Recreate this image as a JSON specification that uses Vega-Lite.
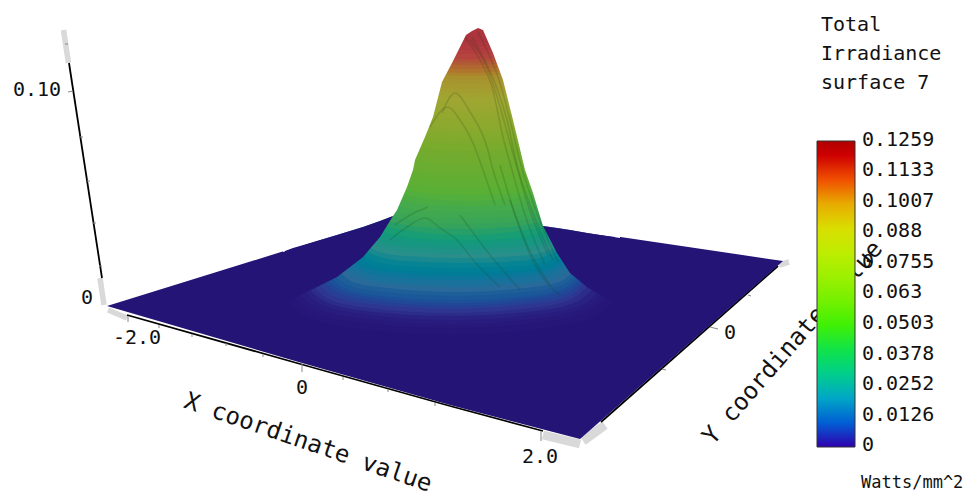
{"$schema":"https://vega.github.io/schema/vega-lite/v6.json","width":971,"height":496,"autosize":{"type":"none"},"padding":0,"background":"white","view":{"stroke":null},
"config":{"text":{"font":"DejaVu Sans Mono","color":"#111"},"view":{"stroke":null}},
"encoding":{"x":{"field":"sx","type":"quantitative","scale":{"domain":[0,971],"nice":false,"zero":false},"axis":null},"y":{"field":"sy","type":"quantitative","scale":{"domain":[0,496],"reverse":true,"nice":false,"zero":false},"axis":null}},
"resolve":{"scale":{"color":"independent"}},
"layer":[
{"data":{"values":[{"sx":63.5,"sy":30,"ex":68.5,"ey":63},{"sx":100,"sy":278,"ex":104,"ey":305},{"sx":108,"sy":310,"ex":127,"ey":318},{"sx":779,"sy":265,"ex":789,"ey":262}]},"mark":{"type":"rule","color":"#d9d9d9","strokeWidth":5.5},"encoding":{"x2":{"field":"ex"},"y2":{"field":"ey"}}},
{"data":{"values":[{"sx":543,"sy":435,"ex":580,"ey":444},{"sx":583,"sy":441,"ex":605,"ey":425}]},"mark":{"type":"rule","color":"#d9d9d9","strokeWidth":9},"encoding":{"x2":{"field":"ex"},"y2":{"field":"ey"}}},
{"data":{"values":[{"sx":69,"sy":63,"ex":102,"ey":278},{"sx":127,"sy":315,"ex":302,"ey":364.5},{"sx":302,"sy":364.5,"ex":450,"ey":406},{"sx":450,"sy":406,"ex":543,"ey":431},{"sx":601,"sy":422,"ex":778,"ey":266}]},"mark":{"type":"rule","color":"#000","strokeWidth":1.8},"encoding":{"x2":{"field":"ex"},"y2":{"field":"ey"}}},
{"data":{"values":[{"sx":68,"sy":92,"ex":73,"ey":91},{"sx":65,"sy":44,"ex":68,"ey":44},{"sx":80,"sy":137,"ex":83,"ey":137},{"sx":87,"sy":181,"ex":90,"ey":181},{"sx":93,"sy":223,"ex":96,"ey":223},{"sx":99,"sy":266,"ex":102,"ey":266},{"sx":128,"sy":316,"ex":128,"ey":322},{"sx":159,"sy":325,"ex":159,"ey":328},{"sx":192,"sy":334,"ex":192,"ey":337},{"sx":226,"sy":343,"ex":226,"ey":346},{"sx":263,"sy":354,"ex":263,"ey":357},{"sx":302,"sy":364,"ex":302,"ey":372},{"sx":343,"sy":377,"ex":343,"ey":380},{"sx":388,"sy":389,"ex":388,"ey":392},{"sx":435,"sy":403,"ex":435,"ey":406},{"sx":541,"sy":431,"ex":541,"ey":441},{"sx":710,"sy":327,"ex":718,"ey":329},{"sx":748,"sy":295,"ex":751,"ey":296},{"sx":662,"sy":369,"ex":666,"ey":370}]},"mark":{"type":"rule","color":"#888","strokeWidth":1},"encoding":{"x2":{"field":"ex"},"y2":{"field":"ey"}}},
{"data":{"values":[{"sx":107,"sy":306,"low":306},{"sx":302,"sy":245.5,"low":363},{"sx":422,"sy":208,"low":397},{"sx":450,"sy":212,"low":405},{"sx":580,"sy":231,"low":439},{"sx":783,"sy":261,"low":261}]},"mark":{"type":"area","orient":"vertical","color":"#241476"},"encoding":{"y2":{"field":"low"}}},
{"data":{"values":[
{"irr":0.001,"sx":288,"sy":302},{"irr":0.001,"sx":304,"sy":316},{"irr":0.001,"sx":353,"sy":328},{"irr":0.001,"sx":450,"sy":335},{"irr":0.001,"sx":547,"sy":328},{"irr":0.001,"sx":596,"sy":316},{"irr":0.001,"sx":612,"sy":302},
{"irr":0.002,"sx":295,"sy":298},{"irr":0.002,"sx":310,"sy":311},{"irr":0.002,"sx":357,"sy":322},{"irr":0.002,"sx":450,"sy":328},{"irr":0.002,"sx":543,"sy":322},{"irr":0.002,"sx":590,"sy":311},{"irr":0.002,"sx":605,"sy":298},
{"irr":0.003,"sx":300,"sy":295},{"irr":0.003,"sx":315,"sy":307},{"irr":0.003,"sx":360,"sy":318},{"irr":0.003,"sx":451,"sy":324},{"irr":0.003,"sx":541,"sy":318},{"irr":0.003,"sx":587,"sy":307},{"irr":0.003,"sx":601,"sy":295},
{"irr":0.004,"sx":305,"sy":292},{"irr":0.004,"sx":320,"sy":304},{"irr":0.004,"sx":364,"sy":314},{"irr":0.004,"sx":452,"sy":320},{"irr":0.004,"sx":540,"sy":314},{"irr":0.004,"sx":584,"sy":304},{"irr":0.004,"sx":598,"sy":292},
{"irr":0.005,"sx":310,"sy":290},{"irr":0.005,"sx":324,"sy":301},{"irr":0.005,"sx":366,"sy":311},{"irr":0.005,"sx":451,"sy":316},{"irr":0.005,"sx":536,"sy":311},{"irr":0.005,"sx":578,"sy":301},{"irr":0.005,"sx":592,"sy":290},
{"irr":0.006,"sx":315,"sy":288},{"irr":0.006,"sx":328,"sy":299},{"irr":0.006,"sx":369,"sy":308},{"irr":0.006,"sx":450,"sy":313},{"irr":0.006,"sx":531,"sy":308},{"irr":0.006,"sx":572,"sy":299},{"irr":0.006,"sx":586,"sy":288},
{"irr":0.007,"sx":320,"sy":285},{"irr":0.007,"sx":333,"sy":296},{"irr":0.007,"sx":372,"sy":304},{"irr":0.007,"sx":452,"sy":309},{"irr":0.007,"sx":531,"sy":304},{"irr":0.007,"sx":570,"sy":296},{"irr":0.007,"sx":583,"sy":285},
{"irr":0.008,"sx":325,"sy":283},{"irr":0.008,"sx":338,"sy":293},{"irr":0.008,"sx":376,"sy":301},{"irr":0.008,"sx":453,"sy":306},{"irr":0.008,"sx":530,"sy":301},{"irr":0.008,"sx":568,"sy":293},{"irr":0.008,"sx":581,"sy":283},
{"irr":0.009,"sx":328,"sy":281},{"irr":0.009,"sx":341,"sy":290},{"irr":0.009,"sx":378,"sy":298},{"irr":0.009,"sx":453,"sy":303},{"irr":0.009,"sx":529,"sy":298},{"irr":0.009,"sx":566,"sy":290},{"irr":0.009,"sx":579,"sy":281},
{"irr":0.01,"sx":332,"sy":279},{"irr":0.01,"sx":344,"sy":288},{"irr":0.01,"sx":381,"sy":296},{"irr":0.01,"sx":454,"sy":300},{"irr":0.01,"sx":527,"sy":296},{"irr":0.01,"sx":564,"sy":288},{"irr":0.01,"sx":577,"sy":279},
{"irr":0.011,"sx":336,"sy":277},{"irr":0.011,"sx":348,"sy":285},{"irr":0.011,"sx":384,"sy":292},{"irr":0.011,"sx":455,"sy":296},{"irr":0.011,"sx":526,"sy":292},{"irr":0.011,"sx":562,"sy":285},{"irr":0.011,"sx":574,"sy":277},
{"irr":0.0126,"sx":342,"sy":274},{"irr":0.0126,"sx":353,"sy":282},{"irr":0.0126,"sx":388,"sy":288},{"irr":0.0126,"sx":456,"sy":292},{"irr":0.0126,"sx":524,"sy":288},{"irr":0.0126,"sx":559,"sy":282},{"irr":0.0126,"sx":571,"sy":274},
{"irr":0.0138,"sx":345,"sy":271},{"irr":0.0138,"sx":356,"sy":278},{"irr":0.0138,"sx":390,"sy":285},{"irr":0.0138,"sx":457,"sy":288},{"irr":0.0138,"sx":523,"sy":285},{"irr":0.0138,"sx":557,"sy":278},{"irr":0.0138,"sx":568,"sy":271},
{"irr":0.015,"sx":349,"sy":268},{"irr":0.015,"sx":360,"sy":275},{"irr":0.015,"sx":392,"sy":282},{"irr":0.015,"sx":457,"sy":285},{"irr":0.015,"sx":522,"sy":282},{"irr":0.015,"sx":554,"sy":275},{"irr":0.015,"sx":565,"sy":268},
{"irr":0.0165,"sx":352,"sy":265},{"irr":0.0165,"sx":363,"sy":271},{"irr":0.0165,"sx":394,"sy":277},{"irr":0.0165,"sx":458,"sy":280},{"irr":0.0165,"sx":520,"sy":277},{"irr":0.0165,"sx":552,"sy":271},{"irr":0.0165,"sx":563,"sy":265},
{"irr":0.018,"sx":356,"sy":262},{"irr":0.018,"sx":366,"sy":268},{"irr":0.018,"sx":397,"sy":273},{"irr":0.018,"sx":458,"sy":276},{"irr":0.018,"sx":519,"sy":273},{"irr":0.018,"sx":550,"sy":268},{"irr":0.018,"sx":561,"sy":262},
{"irr":0.0195,"sx":360,"sy":259},{"irr":0.0195,"sx":370,"sy":264},{"irr":0.0195,"sx":400,"sy":270},{"irr":0.0195,"sx":460,"sy":272},{"irr":0.0195,"sx":520,"sy":270},{"irr":0.0195,"sx":549,"sy":264},{"irr":0.0195,"sx":560,"sy":259},
{"irr":0.021,"sx":364,"sy":256},{"irr":0.021,"sx":374,"sy":261},{"irr":0.021,"sx":403,"sy":266},{"irr":0.021,"sx":461,"sy":268},{"irr":0.021,"sx":519,"sy":266},{"irr":0.021,"sx":548,"sy":261},{"irr":0.021,"sx":558,"sy":256},
{"irr":0.023,"sx":367,"sy":252},{"irr":0.023,"sx":377,"sy":256},{"irr":0.023,"sx":405,"sy":261},{"irr":0.023,"sx":461,"sy":263},{"irr":0.023,"sx":517,"sy":261},{"irr":0.023,"sx":546,"sy":256},{"irr":0.023,"sx":555,"sy":252},
{"irr":0.0252,"sx":371,"sy":248},{"irr":0.0252,"sx":380,"sy":252},{"irr":0.0252,"sx":407,"sy":256},{"irr":0.0252,"sx":462,"sy":258},{"irr":0.0252,"sx":517,"sy":256},{"irr":0.0252,"sx":544,"sy":252},{"irr":0.0252,"sx":553,"sy":248},
{"irr":0.027,"sx":374,"sy":244},{"irr":0.027,"sx":384,"sy":248},{"irr":0.027,"sx":410,"sy":252},{"irr":0.027,"sx":462,"sy":254},{"irr":0.027,"sx":515,"sy":252},{"irr":0.027,"sx":542,"sy":248},{"irr":0.027,"sx":551,"sy":244},
{"irr":0.029,"sx":378,"sy":240},{"irr":0.029,"sx":387,"sy":244},{"irr":0.029,"sx":412,"sy":247},{"irr":0.029,"sx":463,"sy":249},{"irr":0.029,"sx":514,"sy":247},{"irr":0.029,"sx":540,"sy":244},{"irr":0.029,"sx":549,"sy":240},
{"irr":0.031,"sx":381,"sy":236},{"irr":0.031,"sx":414,"sy":241},{"irr":0.031,"sx":464,"sy":244},{"irr":0.031,"sx":514,"sy":241},{"irr":0.031,"sx":547,"sy":236},
{"irr":0.033,"sx":384,"sy":232},{"irr":0.033,"sx":416,"sy":238},{"irr":0.033,"sx":464,"sy":240},{"irr":0.033,"sx":512,"sy":238},{"irr":0.033,"sx":545,"sy":232},
{"irr":0.0355,"sx":387,"sy":227},{"irr":0.0355,"sx":418,"sy":232},{"irr":0.0355,"sx":465,"sy":235},{"irr":0.0355,"sx":512,"sy":232},{"irr":0.0355,"sx":543,"sy":227},
{"irr":0.0378,"sx":390,"sy":222},{"irr":0.0378,"sx":420,"sy":227},{"irr":0.0378,"sx":465,"sy":229},{"irr":0.0378,"sx":511,"sy":227},{"irr":0.0378,"sx":541,"sy":222},
{"irr":0.04,"sx":393,"sy":217},{"irr":0.04,"sx":422,"sy":222},{"irr":0.04,"sx":466,"sy":224},{"irr":0.04,"sx":511,"sy":222},{"irr":0.04,"sx":540,"sy":217},
{"irr":0.042,"sx":396,"sy":212},{"irr":0.042,"sx":424,"sy":217},{"irr":0.042,"sx":467,"sy":218},{"irr":0.042,"sx":510,"sy":217},{"irr":0.042,"sx":539,"sy":212},
{"irr":0.044,"sx":399,"sy":206},{"irr":0.044,"sx":426,"sy":211},{"irr":0.044,"sx":468,"sy":212},{"irr":0.044,"sx":509,"sy":211},{"irr":0.044,"sx":537,"sy":206},
{"irr":0.046,"sx":402,"sy":200},{"irr":0.046,"sx":429,"sy":205},{"irr":0.046,"sx":468,"sy":206},{"irr":0.046,"sx":508,"sy":205},{"irr":0.046,"sx":535,"sy":200},
{"irr":0.048,"sx":405,"sy":195},{"irr":0.048,"sx":430,"sy":199},{"irr":0.048,"sx":469,"sy":201},{"irr":0.048,"sx":508,"sy":199},{"irr":0.048,"sx":533,"sy":195},
{"irr":0.05,"sx":407,"sy":190},{"irr":0.05,"sx":432,"sy":194},{"irr":0.05,"sx":470,"sy":195},{"irr":0.05,"sx":507,"sy":194},{"irr":0.05,"sx":532,"sy":190},
{"irr":0.052,"sx":400,"sy":184},{"irr":0.052,"sx":470,"sy":188},{"irr":0.052,"sx":540,"sy":184},
{"irr":0.054,"sx":400,"sy":178},{"irr":0.054,"sx":470,"sy":182},{"irr":0.054,"sx":540,"sy":178},
{"irr":0.056,"sx":400,"sy":173},{"irr":0.056,"sx":470,"sy":177},{"irr":0.056,"sx":540,"sy":173},
{"irr":0.058,"sx":400,"sy":168},{"irr":0.058,"sx":470,"sy":172},{"irr":0.058,"sx":540,"sy":168},
{"irr":0.0605,"sx":400,"sy":160},{"irr":0.0605,"sx":470,"sy":165},{"irr":0.0605,"sx":540,"sy":160},
{"irr":0.063,"sx":400,"sy":153},{"irr":0.063,"sx":470,"sy":158},{"irr":0.063,"sx":540,"sy":153},
{"irr":0.0655,"sx":400,"sy":146},{"irr":0.0655,"sx":470,"sy":151},{"irr":0.0655,"sx":540,"sy":146},
{"irr":0.068,"sx":400,"sy":140},{"irr":0.068,"sx":470,"sy":145},{"irr":0.068,"sx":540,"sy":140},
{"irr":0.07,"sx":400,"sy":135},{"irr":0.07,"sx":470,"sy":140},{"irr":0.07,"sx":540,"sy":135},
{"irr":0.072,"sx":400,"sy":130},{"irr":0.072,"sx":470,"sy":135},{"irr":0.072,"sx":540,"sy":130},
{"irr":0.074,"sx":400,"sy":126},{"irr":0.074,"sx":470,"sy":131},{"irr":0.074,"sx":540,"sy":126},
{"irr":0.0755,"sx":400,"sy":122},{"irr":0.0755,"sx":470,"sy":128},{"irr":0.0755,"sx":540,"sy":122},
{"irr":0.078,"sx":400,"sy":117},{"irr":0.078,"sx":470,"sy":123},{"irr":0.078,"sx":540,"sy":117},
{"irr":0.08,"sx":400,"sy":112},{"irr":0.08,"sx":470,"sy":118},{"irr":0.08,"sx":540,"sy":112},
{"irr":0.0825,"sx":400,"sy":107},{"irr":0.0825,"sx":470,"sy":113},{"irr":0.0825,"sx":540,"sy":107},
{"irr":0.085,"sx":400,"sy":102},{"irr":0.085,"sx":470,"sy":108},{"irr":0.085,"sx":540,"sy":102},
{"irr":0.0875,"sx":400,"sy":97},{"irr":0.0875,"sx":470,"sy":103},{"irr":0.0875,"sx":540,"sy":97},
{"irr":0.09,"sx":400,"sy":92},{"irr":0.09,"sx":470,"sy":98},{"irr":0.09,"sx":540,"sy":92},
{"irr":0.0925,"sx":400,"sy":87},{"irr":0.0925,"sx":470,"sy":93},{"irr":0.0925,"sx":540,"sy":87},
{"irr":0.095,"sx":400,"sy":83},{"irr":0.095,"sx":470,"sy":89},{"irr":0.095,"sx":540,"sy":83},
{"irr":0.0975,"sx":400,"sy":78},{"irr":0.0975,"sx":470,"sy":84},{"irr":0.0975,"sx":540,"sy":78},
{"irr":0.1,"sx":400,"sy":74},{"irr":0.1,"sx":470,"sy":80},{"irr":0.1,"sx":540,"sy":74},
{"irr":0.1025,"sx":400,"sy":70},{"irr":0.1025,"sx":470,"sy":76},{"irr":0.1025,"sx":540,"sy":70},
{"irr":0.105,"sx":400,"sy":67},{"irr":0.105,"sx":470,"sy":73},{"irr":0.105,"sx":540,"sy":67},
{"irr":0.1075,"sx":400,"sy":63},{"irr":0.1075,"sx":470,"sy":69},{"irr":0.1075,"sx":540,"sy":63},
{"irr":0.11,"sx":400,"sy":60},{"irr":0.11,"sx":470,"sy":65},{"irr":0.11,"sx":540,"sy":60},
{"irr":0.1115,"sx":400,"sy":57},{"irr":0.1115,"sx":470,"sy":62},{"irr":0.1115,"sx":540,"sy":57},
{"irr":0.113,"sx":400,"sy":54},{"irr":0.113,"sx":470,"sy":59},{"irr":0.113,"sx":540,"sy":54},
{"irr":0.115,"sx":400,"sy":50},{"irr":0.115,"sx":470,"sy":54},{"irr":0.115,"sx":540,"sy":50},
{"irr":0.117,"sx":400,"sy":46},{"irr":0.117,"sx":470,"sy":50},{"irr":0.117,"sx":540,"sy":46},
{"irr":0.119,"sx":400,"sy":42},{"irr":0.119,"sx":470,"sy":46},{"irr":0.119,"sx":540,"sy":42},
{"irr":0.121,"sx":400,"sy":38},{"irr":0.121,"sx":470,"sy":42},{"irr":0.121,"sx":540,"sy":38}
]},"mark":{"type":"area","orient":"vertical","interpolate":"monotone"},"encoding":{"y2":{"datum":20},"detail":{"field":"irr","type":"nominal"},"color":{"field":"irr","type":"quantitative","legend":null,"scale":{"domain":[0,0.002,0.004,0.006,0.0126,0.0252,0.0378,0.05,0.063,0.0755,0.088,0.1,0.11,0.1133,0.1259],"range":["#241476","#27187a","#2a2282","#2e3690","#2a6a9a","#2a8f8a","#35a35c","#59b035","#73ab2e","#8da92e","#a0a632","#a8902f","#b05a35","#b5403f","#a52c3c"]}}}},
{"data":{"values":[{"sx":283,"sy":252},{"sx":317,"sy":241},{"sx":337,"sy":235},{"sx":363,"sy":227},{"sx":380,"sy":221},{"sx":393,"sy":216},{"sx":397,"sy":210},{"sx":407,"sy":187},{"sx":413,"sy":170},{"sx":415,"sy":160},{"sx":425,"sy":137},{"sx":433,"sy":117},{"sx":442,"sy":82},{"sx":452,"sy":63},{"sx":460,"sy":47},{"sx":466,"sy":35},{"sx":472,"sy":31},{"sx":478,"sy":28},{"sx":483,"sy":30},{"sx":493,"sy":53},{"sx":503,"sy":80},{"sx":513,"sy":120},{"sx":525,"sy":170},{"sx":533,"sy":193},{"sx":543,"sy":226},{"sx":557,"sy":228},{"sx":570,"sy":230},{"sx":587,"sy":233},{"sx":600,"sy":235},{"sx":620,"sy":238}]},"mark":{"type":"area","orient":"vertical","color":"white"},"encoding":{"y2":{"datum":0}}},
{"data":{"values":[{"part":"a","sx":285,"sy":251,"low":304},{"part":"a","sx":293,"sy":248,"low":299},{"part":"a","sx":300,"sy":246,"low":295},{"part":"a","sx":317,"sy":241,"low":287},{"part":"a","sx":337,"sy":235,"low":277},{"part":"a","sx":363,"sy":227,"low":257},{"part":"a","sx":380,"sy":221,"low":237},{"part":"a","sx":393,"sy":216,"low":216},{"part":"b","sx":543,"sy":226,"low":226},{"part":"b","sx":557,"sy":228,"low":253},{"part":"b","sx":570,"sy":230,"low":273},{"part":"b","sx":587,"sy":233,"low":287},{"part":"b","sx":600,"sy":235,"low":295},{"part":"b","sx":607,"sy":236,"low":299},{"part":"b","sx":615,"sy":237,"low":303}]},"mark":{"type":"area","orient":"vertical","color":"#241476"},"encoding":{"y2":{"field":"low"},"detail":{"field":"part"}}},
{"data":{"values":[
{"id":1,"sx":390,"sy":240},{"id":1,"sx":407,"sy":227},{"id":1,"sx":425,"sy":218},{"id":1,"sx":440,"sy":228},{"id":1,"sx":457,"sy":240},{"id":1,"sx":473,"sy":260},{"id":1,"sx":500,"sy":287},
{"id":2,"sx":395,"sy":225},{"id":2,"sx":412,"sy":214},{"id":2,"sx":428,"sy":207},
{"id":3,"sx":430,"sy":127},{"id":3,"sx":448,"sy":107},{"id":3,"sx":460,"sy":120},{"id":3,"sx":473,"sy":143},{"id":3,"sx":483,"sy":170},{"id":3,"sx":495,"sy":205},
{"id":4,"sx":442,"sy":113},{"id":4,"sx":455,"sy":93},{"id":4,"sx":470,"sy":112},{"id":4,"sx":487,"sy":147},{"id":4,"sx":493,"sy":170},{"id":4,"sx":505,"sy":205},
{"id":5,"sx":472,"sy":37},{"id":5,"sx":483,"sy":57},{"id":5,"sx":495,"sy":83},{"id":5,"sx":507,"sy":120},{"id":5,"sx":517,"sy":165},{"id":5,"sx":533,"sy":213},{"id":5,"sx":553,"sy":260},
{"id":6,"sx":465,"sy":37},{"id":6,"sx":480,"sy":60},{"id":6,"sx":492,"sy":87},{"id":6,"sx":503,"sy":137},{"id":6,"sx":512,"sy":170},{"id":6,"sx":525,"sy":215},{"id":6,"sx":545,"sy":265},
{"id":7,"sx":478,"sy":32},{"id":7,"sx":490,"sy":57},{"id":7,"sx":500,"sy":83},{"id":7,"sx":510,"sy":120},{"id":7,"sx":521,"sy":165},{"id":7,"sx":537,"sy":213},{"id":7,"sx":558,"sy":262},
{"id":8,"sx":500,"sy":165},{"id":8,"sx":515,"sy":215},{"id":8,"sx":535,"sy":265},{"id":8,"sx":560,"sy":295},
{"id":9,"sx":510,"sy":200},{"id":9,"sx":527,"sy":245},{"id":9,"sx":550,"sy":285},
{"id":10,"sx":460,"sy":215},{"id":10,"sx":490,"sy":255},{"id":10,"sx":520,"sy":290},
{"id":11,"sx":470,"sy":40},{"id":11,"sx":488,"sy":70},{"id":11,"sx":498,"sy":100},{"id":11,"sx":512,"sy":150},{"id":11,"sx":528,"sy":205},{"id":11,"sx":548,"sy":255}
]},"mark":{"type":"line","color":"#1c3a12","opacity":0.17,"strokeWidth":1.6,"interpolate":"monotone"},"encoding":{"detail":{"field":"id"}}},
{"data":{"values":[{"t":"0.10","sx":37,"sy":90},{"t":"0","sx":87,"sy":298},{"t":"-2.0","sx":137,"sy":338},{"t":"0","sx":302,"sy":388},{"t":"2.0","sx":540,"sy":457},{"t":"0","sx":730,"sy":333}]},"mark":{"type":"text","fontSize":20,"align":"center","baseline":"middle"},"encoding":{"text":{"field":"t"}}},
{"data":{"values":[{"t":"X coordinate value","sx":308,"sy":443}]},"mark":{"type":"text","fontSize":24,"angle":19,"align":"center","baseline":"middle"},"encoding":{"text":{"field":"t"}}},
{"data":{"values":[{"t":"Y coordinate value","sx":793,"sy":343}]},"mark":{"type":"text","fontSize":24,"angle":311,"align":"center","baseline":"middle"},"encoding":{"text":{"field":"t"}}},
{"data":{"values":[{"t":"Watts/mm^2","sx":861,"sy":483}]},"mark":{"type":"text","fontSize":17,"align":"left","baseline":"middle"},"encoding":{"text":{"field":"t"}}},
{"data":{"values":[{"t":"Total","sx":821,"sy":25},{"t":"Irradiance","sx":821,"sy":54},{"t":"surface 7","sx":821,"sy":83},{"t":"0.1259","sx":862,"sy":140},{"t":"0.1133","sx":862,"sy":170},{"t":"0.1007","sx":862,"sy":201},{"t":"0.088","sx":862,"sy":231},{"t":"0.0755","sx":862,"sy":262},{"t":"0.063","sx":862,"sy":292},{"t":"0.0503","sx":862,"sy":323},{"t":"0.0378","sx":862,"sy":354},{"t":"0.0252","sx":862,"sy":384},{"t":"0.0126","sx":862,"sy":415},{"t":"0","sx":862,"sy":445}]},"mark":{"type":"text","fontSize":20,"align":"left","baseline":"middle"},"encoding":{"text":{"field":"t"}}},
{"data":{"values":[{"irr":0,"sx":836,"sy":446},{"irr":0.1259,"sx":836,"sy":141}]},"mark":{"type":"point","filled":true,"size":0,"opacity":1},"encoding":{"color":{"field":"irr","type":"quantitative","scale":{"domain":[0,0.0126,0.0252,0.0378,0.0503,0.063,0.0755,0.088,0.1007,0.1133,0.1259],"range":["#3000b0","#0070d8","#00c0a0","#00e050","#40f000","#80f000","#b0f000","#d4e800","#e8a800","#f00000","#b00000"]},"legend":{"orient":"none","legendX":817,"legendY":141,"direction":"vertical","title":null,"gradientLength":306,"gradientThickness":38,"gradientStrokeColor":"#333","gradientStrokeWidth":1,"values":[0,0.1259],"labelOpacity":0,"labelFontSize":1,"padding":0}}}}
]}
